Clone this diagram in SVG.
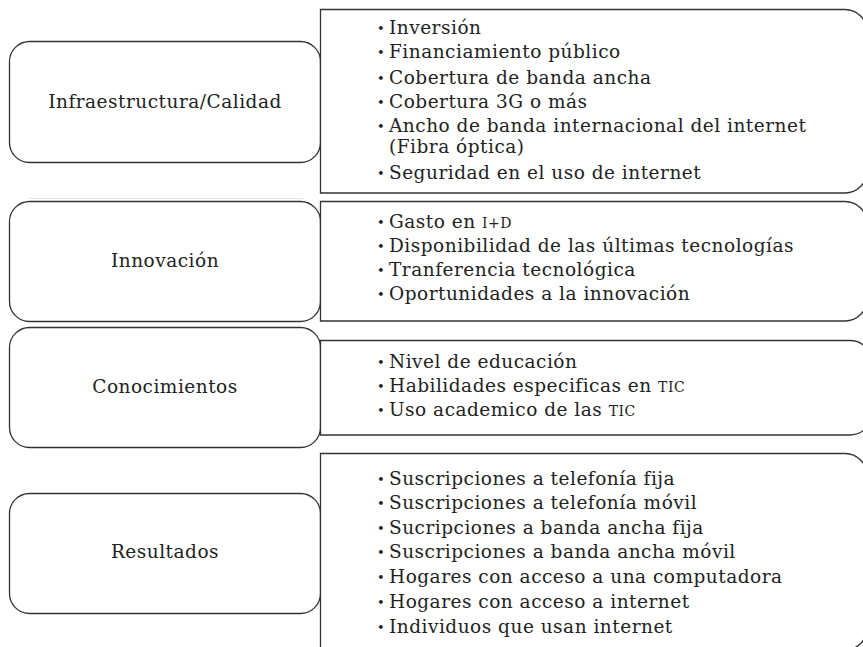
<svg xmlns="http://www.w3.org/2000/svg" width="863" height="647" viewBox="0 0 863 647">
<style>
.box{fill:#fff;stroke:#333;stroke-width:1.3}
.lbl{font-family:"DejaVu Serif","Liberation Serif",serif;font-size:18.5px;letter-spacing:0.5px;fill:#222;text-anchor:middle}
.it{font-family:"DejaVu Serif","Liberation Serif",serif;font-size:18.5px;letter-spacing:0.5px;fill:#222}
.bul{font-family:"DejaVu Serif","Liberation Serif",serif;font-size:13px;fill:#222}
.sc{font-size:14px}
</style>
<rect width="863" height="647" fill="#fff"/>
<line x1="28" y1="198.5" x2="303" y2="198.5" stroke="#e4e4e4" stroke-width="1"/>

<g id="infraestructura">
<rect class="box" x="9.5" y="41.5" width="311" height="121" rx="20"/>
<text class="lbl" x="165" y="108">Infraestructura/Calidad</text>
</g>
<g id="infraestructura-items">
<path class="box" d="M320.5,9.5 H845 A22,22 0 0 1 867,31.5 V171 A22,22 0 0 1 845,193 H320.5 Z"/>
<g class="bul"><text x="377" y="33">•</text><text x="377" y="57">•</text><text x="377" y="83">•</text><text x="377" y="107">•</text><text x="377" y="131">•</text><text x="377" y="178">•</text></g>
<text class="it" x="389" y="34">Inversión</text>
<text class="it" x="389" y="58">Financiamiento público</text>
<text class="it" x="389" y="84">Cobertura de banda ancha</text>
<text class="it" x="389" y="108">Cobertura 3G o más</text>
<text class="it" x="389" y="132">Ancho de banda internacional del internet</text>
<text class="it" x="389" y="153">(Fibra óptica)</text>
<text class="it" x="389" y="179">Seguridad en el uso de internet</text>
</g>

<g id="innovacion">
<rect class="box" x="9.5" y="201.5" width="311" height="120" rx="20"/>
<text class="lbl" x="165" y="267">Innovación</text>
</g>
<g id="innovacion-items">
<path class="box" d="M320.5,201.5 H845 A22,22 0 0 1 867,223.5 V299 A22,22 0 0 1 845,321 H320.5 Z"/>
<g class="bul"><text x="377" y="227">•</text><text x="377" y="251">•</text><text x="377" y="275">•</text><text x="377" y="299">•</text></g>
<text class="it" x="389" y="228">Gasto en <tspan class="sc">I+D</tspan></text>
<text class="it" x="389" y="252">Disponibilidad de las últimas tecnologías</text>
<text class="it" x="389" y="276">Tranferencia tecnológica</text>
<text class="it" x="389" y="300">Oportunidades a la innovación</text>
</g>

<g id="conocimientos">
<rect class="box" x="9.5" y="327.5" width="311" height="120" rx="20"/>
<text class="lbl" x="165" y="393">Conocimientos</text>
</g>
<g id="conocimientos-items">
<path class="box" d="M320.5,340.5 H850 A22,22 0 0 1 872,362.5 V413 A22,22 0 0 1 850,435 H320.5 Z"/>
<g class="bul"><text x="377" y="367">•</text><text x="377" y="391">•</text><text x="377" y="415">•</text></g>
<text class="it" x="389" y="368">Nivel de educación</text>
<text class="it" x="389" y="392">Habilidades especificas en <tspan class="sc">TIC</tspan></text>
<text class="it" x="389" y="416">Uso academico de las <tspan class="sc">TIC</tspan></text>
</g>

<g id="resultados">
<rect class="box" x="9.5" y="493.5" width="311" height="120" rx="20"/>
<text class="lbl" x="165" y="558">Resultados</text>
</g>
<g id="resultados-items">
<path class="box" d="M320.5,453.5 H845 A22,22 0 0 1 867,475.5 V628 A22,22 0 0 1 845,650 H320.5 Z"/>
<g class="bul"><text x="377" y="484">•</text><text x="377" y="508">•</text><text x="377" y="533">•</text><text x="377" y="557">•</text><text x="377" y="582">•</text><text x="377" y="607">•</text><text x="377" y="632">•</text></g>
<text class="it" x="389" y="485">Suscripciones a telefonía fija</text>
<text class="it" x="389" y="509">Suscripciones a telefonía móvil</text>
<text class="it" x="389" y="534">Sucripciones a banda ancha fija</text>
<text class="it" x="389" y="558">Suscripciones a banda ancha móvil</text>
<text class="it" x="389" y="583">Hogares con acceso a una computadora</text>
<text class="it" x="389" y="608">Hogares con acceso a internet</text>
<text class="it" x="389" y="633">Individuos que usan internet</text>
</g>
<g id="connectors"></g>
</svg>
